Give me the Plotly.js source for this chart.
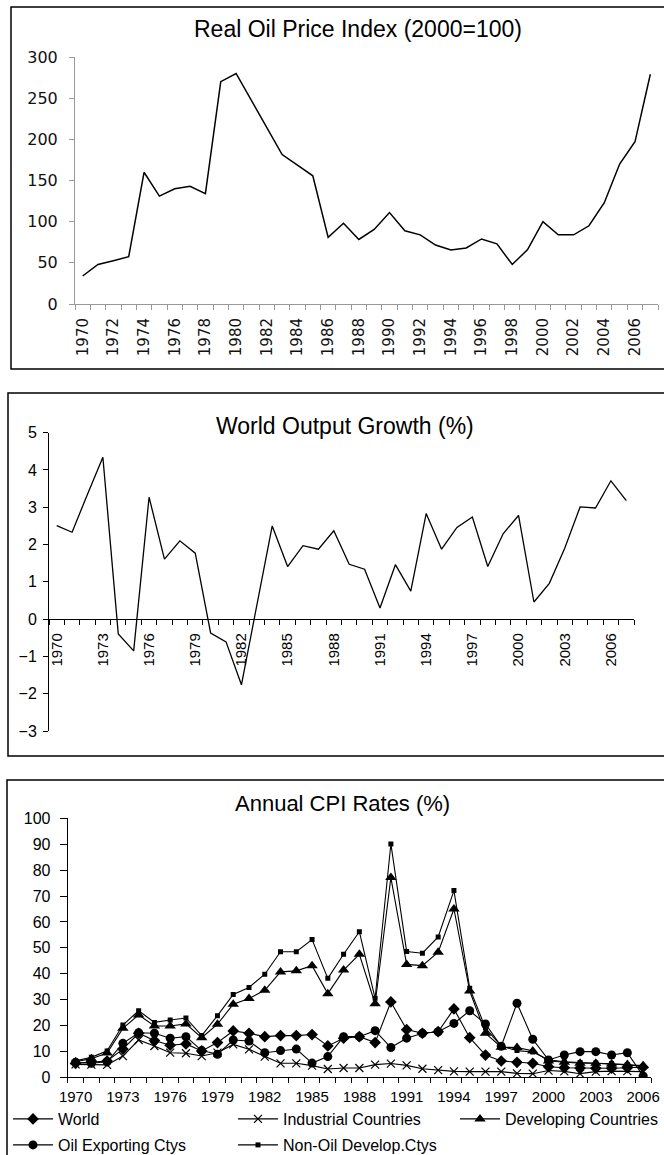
<!DOCTYPE html>
<html><head><meta charset="utf-8">
<script src="https://cdn.plot.ly/plotly-3.0.1.min.js"></script>
<style>html,body{margin:0;padding:0;background:#fff}#c{width:664px;height:1155px}</style>
</head><body><div id="c"></div>
<script>
// ---------- DATA ----------
const oilYears = [1970,1971,1972,1973,1974,1975,1976,1977,1978,1979,1980,1981,1982,1983,1984,1985,1986,1987,1988,1989,1990,1991,1992,1993,1994,1995,1996,1997,1998,1999,2000,2001,2002,2003,2004,2005,2006,2007];
const oilPrice = [34,48,52.6,57.4,160,131,140,143,134,270,280,247,214,181.5,168.6,155.7,81,98,78.4,90.6,111,89,84,71.6,65.5,68,79,73,48,66,100,84,84,95,123,170,197,279];
const oilTickLabels = ['1970','1972','1974','1976','1978','1980','1982','1984','1986','1988','1990','1992','1994','1996','1998','2000','2002','2004','2006'];

const growthYears = [1970,1971,1972,1973,1974,1975,1976,1977,1978,1979,1980,1981,1982,1983,1984,1985,1986,1987,1988,1989,1990,1991,1992,1993,1994,1995,1996,1997,1998,1999,2000,2001,2002,2003,2004,2005,2006,2007];
const worldGrowth = [2.51,2.33,3.35,4.34,-0.40,-0.85,3.27,1.61,2.10,1.77,-0.375,-0.61,-1.76,0.4,2.5,1.41,1.97,1.875,2.37,1.47,1.34,0.30,1.46,0.75,2.83,1.875,2.46,2.74,1.41,2.29,2.78,0.46,0.96,1.9,3.01,2.98,3.71,3.18];
const growthTickLabels = ['1970','1973','1976','1979','1982','1985','1988','1991','1994','1997','2000','2003','2006'];

const cpiYears = [1970,1971,1972,1973,1974,1975,1976,1977,1978,1979,1980,1981,1982,1983,1984,1985,1986,1987,1988,1989,1990,1991,1992,1993,1994,1995,1996,1997,1998,1999,2000,2001,2002,2003,2004,2005,2006];
const cpiWorld      = [5.4,5.9,6.3,10.9,17.0,14.2,12.4,12.9,10.2,13.4,17.9,17.0,15.7,16.1,16.1,16.5,12.1,15.1,15.7,13.4,29.1,18.4,17.0,17.6,26.4,15.3,8.6,6.3,5.8,5.4,4.1,3.7,3.6,3.5,3.5,3.7,3.9];
const cpiIndustrial = [5.0,4.9,4.8,8.2,14.4,12.1,9.5,9.3,8.2,9.5,12.7,10.8,8.0,5.4,5.4,4.5,3.2,3.6,3.6,4.9,5.3,4.6,3.3,2.8,2.3,2.2,2.2,2.2,1.5,1.4,2.6,2.3,1.4,2.2,2.4,2.4,2.2];
const cpiDeveloping = [6.0,7.2,9.4,18.9,24.1,19.8,19.8,20.6,15.3,20.5,28.2,30.4,33.6,40.7,41.1,43.1,32.3,41.4,47.5,28.4,77.1,43.6,43.1,48.3,65.0,33.3,17.0,11.6,11.5,10.2,6.3,5.8,5.4,5.4,5.1,4.9,4.5];
const cpiOilExp     = [5.7,5.4,6.0,13.1,17.2,17.0,15.1,15.7,10.3,8.9,14.4,14.0,9.5,10.3,10.9,5.5,8.0,15.7,15.7,18.0,11.5,15.1,17.0,17.6,20.8,25.7,20.6,12.0,28.6,14.7,6.7,8.6,9.9,9.9,8.6,9.5,0.5];
const cpiNonOil     = [6.4,7.7,10.2,20.2,25.7,21.2,22.1,22.9,16.1,23.8,32.0,34.7,39.8,48.5,48.5,53.2,38.2,47.5,56.2,30.5,90.1,48.6,47.9,54.2,72.1,34.4,19.0,12.1,10.3,9.8,6.8,6.0,5.7,5.5,5.3,4.9,4.1];
const cpiTickLabels = ['1970','1973','1976','1979','1982','1985','1988','1991','1994','1997','2000','2003','2006'];
const cpiYTicks = [0,10,20,30,40,50,60,70,80,90,100];

// ---------- LAYOUT HELPERS ----------
const W = 664, H = 1155;
const fx = p => p / W;
const fy = p => 1 - p / H;
const bounds = ys => ys.map(y => y - 0.5).concat([ys[ys.length-1] + 0.5]);
const ARIAL = 'Liberation Sans, Arial, sans-serif';

const traces = [
  {x: oilYears, y: oilPrice, xaxis:'x', yaxis:'y', mode:'lines', line:{color:'#000', width:1.5}, showlegend:false},
  {x: growthYears, y: worldGrowth, xaxis:'x2', yaxis:'y2', mode:'lines', line:{color:'#000', width:1.3}, showlegend:false},
  {x: cpiYears, y: cpiWorld, xaxis:'x3', yaxis:'y3', mode:'lines+markers', name:'World', legend:'legend',
   line:{color:'#000', width:1.1}, marker:{symbol:'diamond', size:9, color:'#000'}},
  {x: cpiYears, y: cpiIndustrial, xaxis:'x3', yaxis:'y3', mode:'lines+markers', name:'Industrial Countries', legend:'legend2',
   line:{color:'#000', width:1.1}, marker:{symbol:'x-thin-open', size:8, color:'#000', line:{width:1.2, color:'#000'}}},
  {x: cpiYears, y: cpiDeveloping, xaxis:'x3', yaxis:'y3', mode:'lines+markers', name:'Developing Countries', legend:'legend3',
   line:{color:'#000', width:1.1}, marker:{symbol:'triangle-up', size:10, color:'#000'}},
  {x: cpiYears, y: cpiOilExp, xaxis:'x3', yaxis:'y3', mode:'lines+markers', name:'Oil Exporting Ctys', legend:'legend4',
   line:{color:'#000', width:1.1}, marker:{symbol:'circle', size:9, color:'#000'}},
  {x: cpiYears, y: cpiNonOil, xaxis:'x3', yaxis:'y3', mode:'lines+markers', name:'Non-Oil Develop.Ctys', legend:'legend5',
   line:{color:'#000', width:1.1}, marker:{symbol:'square', size:5, color:'#000'}}
];

const gray = '#9a9a9a';
const legendBase = (x, y) => ({x: fx(x), y: fy(y), xref:'paper', yref:'paper', xanchor:'left', yanchor:'middle',
  bgcolor:'rgba(0,0,0,0)', borderwidth:0, itemwidth:40, font:{family:ARIAL, size:16, color:'#000'}});

const layout = {
  width: W, height: H,
  margin: {l:0, r:0, t:0, b:0, pad:0, autoexpand:false},
  paper_bgcolor:'#fff', plot_bgcolor:'rgba(0,0,0,0)',
  showlegend: true,
  // Panel 1
  xaxis: {domain:[fx(75), fx(658)], anchor:'y', range:[1969.5, 2007.5], tickmode:'array',
    tickvals: oilTickLabels.map(Number), ticktext: oilTickLabels, ticks:'', tickangle:-90,
    ticklabelstandoff: 7,
    tickfont:{family:'DejaVu Sans, sans-serif', size:15, color:'#111'},
    showline:true, linecolor:gray, linewidth:1, showgrid:false, zeroline:false,
    minor:{tickmode:'array', tickvals: bounds(oilYears), ticks:'outside', ticklen:5, tickcolor:gray, tickwidth:1, showgrid:false}},
  yaxis: {domain:[fy(304), fy(57)], anchor:'x', range:[0,300], tickmode:'array', tickvals:[0,50,100,150,200,250,300],
    ticks:'outside', ticklen:5, tickcolor:gray, ticklabelstandoff: 8,
    tickfont:{family:'DejaVu Sans, sans-serif', size:16, color:'#111'},
    showline:true, linecolor:gray, linewidth:1, showgrid:false, zeroline:false},
  // Panel 2
  xaxis2: {domain:[fx(49), fx(634)], anchor:'free', position: fy(619.2), range:[1969.5, 2007.5], tickmode:'array',
    tickvals: growthTickLabels.map(Number), ticktext: growthTickLabels, ticks:'', tickangle:-90,
    ticklabelstandoff: 7,
    tickfont:{family:ARIAL, size:15, color:'#000'},
    showline:true, linecolor:'#000', linewidth:1, showgrid:false, zeroline:false,
    minor:{tickmode:'array', tickvals: bounds(growthYears), ticks:'outside', ticklen:5, tickcolor:'#000', tickwidth:1, showgrid:false}},
  yaxis2: {domain:[fy(731), fy(432.7)], anchor:'x2', range:[-3,5], tickmode:'array', tickvals:[-3,-2,-1,0,1,2,3,4,5],
    ticks:'outside', ticklen:5, tickcolor:'#000', ticklabelstandoff: 3,
    tickfont:{family:ARIAL, size:16, color:'#000'},
    showline:true, linecolor:'#000', linewidth:1, showgrid:false, zeroline:false},
  // Panel 3
  xaxis3: {domain:[fx(67.7), fx(651)], anchor:'y3', range:[1969.5, 2006.5], tickmode:'array',
    tickvals: cpiTickLabels.map(Number), ticktext: cpiTickLabels, ticks:'', tickangle:0,
    ticklabelstandoff: 6,
    tickfont:{family:ARIAL, size:15, color:'#000'},
    showline:true, linecolor:'#000', linewidth:1, showgrid:false, zeroline:false,
    minor:{tickmode:'array', tickvals: bounds(cpiYears), ticks:'outside', ticklen:5, tickcolor:'#000', tickwidth:1, showgrid:false}},
  yaxis3: {domain:[fy(1077.3), fy(818.3)], anchor:'x3', range:[0,100], tickmode:'array', tickvals: cpiYTicks,
    ticks:'outside', ticklen:7, tickcolor:'#000', ticklabelstandoff: 6,
    tickfont:{family:ARIAL, size:16, color:'#000'},
    showline:true, linecolor:'#000', linewidth:1, showgrid:false, zeroline:false},
  legend:  legendBase(8, 1119),
  legend2: legendBase(233, 1119),
  legend3: legendBase(455, 1119),
  legend4: legendBase(8, 1145),
  legend5: legendBase(233, 1145),
  annotations: [
    {text:'Real Oil Price Index (2000=100)', x: fx(358), y: fy(29), xref:'paper', yref:'paper', showarrow:false,
     xanchor:'center', yanchor:'middle', font:{family:ARIAL, size:23, color:'#000'}},
    {text:'World Output Growth (%)', x: fx(345), y: fy(426), xref:'paper', yref:'paper', showarrow:false,
     xanchor:'center', yanchor:'middle', font:{family:ARIAL, size:23, color:'#000'}},
    {text:'Annual CPI Rates (%)', x: fx(342), y: fy(803), xref:'paper', yref:'paper', showarrow:false,
     xanchor:'center', yanchor:'middle', font:{family:ARIAL, size:22, color:'#000'}}
  ],
  shapes: [
    {type:'rect', xref:'paper', yref:'paper', x0: fx(11), x1: fx(672), y0: fy(369), y1: fy(7), line:{color:'#000', width:1.5}},
    {type:'rect', xref:'paper', yref:'paper', x0: fx(8), x1: fx(672), y0: fy(756), y1: fy(393), line:{color:'#000', width:1.5}},
    {type:'rect', xref:'paper', yref:'paper', x0: fx(7), x1: fx(672), y0: fy(1165), y1: fy(780), line:{color:'#000', width:1.5}}
  ]
};

Plotly.newPlot('c', traces, layout, {staticPlot:true, displayModeBar:false});
</script>
</body></html>
